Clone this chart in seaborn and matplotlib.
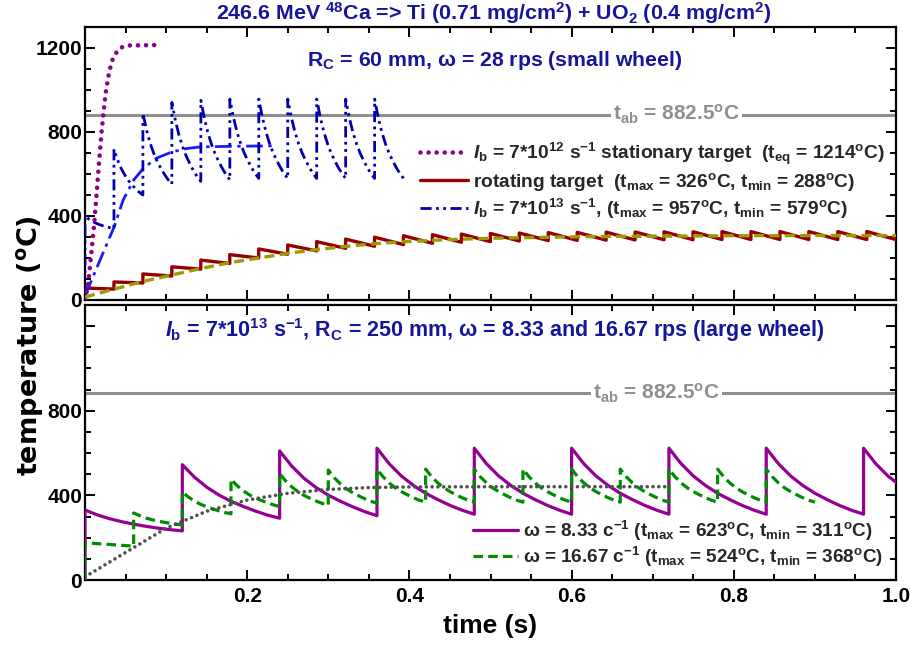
import matplotlib
matplotlib.use('Agg')
import matplotlib.pyplot as plt
import seaborn as sns
from matplotlib import font_manager as fm
from matplotlib.ticker import MultipleLocator, NullFormatter

# ---------------- data ----------------
# sample positions inside one revolution (fraction of the period)
tooth_frac = [0.0, 0.125, 0.25, 0.375, 0.5, 0.625, 0.75, 0.875, 1.0]

# top panel: small wheel, one revolution = 1/28 s
P_SMALL = 0.0357
stat_t = [0, 0.004, 0.008, 0.011, 0.014, 0.017, 0.020, 0.023, 0.026, 0.030, 0.034, 0.039, 0.045, 0.054, 0.088]
stat_T = [0, 81, 230, 347, 490, 640, 780, 900, 1000, 1090, 1145, 1180, 1203, 1212, 1214]

blue_start_T = 20
blue_tooth_t = [0.0, 0.0357, 0.0714, 0.1071, 0.1429, 0.1786, 0.2143, 0.25, 0.2857, 0.3214, 0.3571]
blue_steady = [957, 869, 799, 744, 699, 663, 630, 602, 579]
blue_teeth = [
    [400, 386, 375, 366, 359, 353, 348, 344, 340],
    [718, 667, 626, 595, 569, 548, 529, 513, 500],
    [889, 810, 747, 698, 658, 626, 597, 572, 552],
    [941, 853, 783, 729, 684, 648, 615, 587, 565],
    [951, 862, 792, 738, 693, 657, 624, 596, 572],
] + [blue_steady] * 6

bavg_t = [0, 0.012, 0.024, 0.036, 0.047, 0.060, 0.072, 0.088, 0.107, 0.125, 0.142, 0.183, 0.232]
bavg_T = [20, 130, 240, 349, 476, 571, 627, 675, 705, 721, 729, 732, 734]

brown_start_T = 15
brown_tooth_t = [i * 0.0357 for i in range(28)]
brown_peak = [57, 86, 124, 158, 190, 216, 243, 262, 278, 290, 299, 306, 311, 314, 317, 319, 321, 322,
              323, 324, 325, 325, 326, 326, 326, 326, 326, 326]
brown_min = [52, 81, 114, 147, 174, 200, 218, 234, 246, 256, 264, 270, 275, 278, 281, 283, 284, 285,
             286, 287, 287, 288, 288, 288, 288, 288, 288, 288]

olive_t = [0, 0.036, 0.071, 0.107, 0.143, 0.179, 0.214, 0.25, 0.286, 0.321, 0.357, 0.4, 0.45, 0.5, 0.6, 0.7, 0.8, 0.9, 1.0]
olive_T = [14, 52, 88, 119, 150, 178, 200, 222, 240, 255, 268, 279, 288, 294, 301, 304, 306, 307, 307]

# bottom panel: large wheel
P_833 = 0.12
purp_tooth_t = [0.0, 0.12, 0.24, 0.36, 0.48, 0.60, 0.72, 0.84, 0.96]
purp_steady = [623, 550, 492, 447, 410, 380, 353, 330, 311]
purp_teeth = [
    [331, 308, 290, 276, 264, 254, 245, 238, 232],
    [545, 486, 439, 402, 372, 348, 326, 307, 292],
    [610, 538, 481, 437, 401, 372, 346, 323, 304],
] + [purp_steady] * 6

P_1667 = 0.06
green_tooth_t = [0.0, 0.06, 0.12, 0.18, 0.24, 0.30, 0.36, 0.42, 0.48, 0.54, 0.60, 0.66, 0.72, 0.78, 0.84]
green_steady = [524, 488, 459, 436, 418, 403, 389, 377, 368]
green_teeth = [
    [176, 174, 172, 170, 168, 166, 164, 162, 160],
    [317, 304, 293, 285, 278, 273, 268, 264, 260],
    [416, 392, 373, 358, 346, 336, 327, 319, 313],
    [476, 446, 422, 403, 388, 376, 365, 355, 347],
    [503, 468, 440, 418, 400, 386, 373, 362, 353],
    [520, 483, 454, 431, 413, 398, 384, 372, 363],
] + [green_steady] * 9

avg_t = [0, 0.05, 0.10, 0.15, 0.20, 0.25, 0.30, 0.35, 0.40, 0.50, 0.72]
avg_T = [15, 130, 245, 325, 378, 410, 428, 437, 440, 441, 441]

T_AB = 882.5

# ---------------- helpers ----------------
def saw(starts, teeth, fracs, period, start_val):
    xs, ys = [starts[0]], [start_val]
    for s, vals in zip(starts, teeth):
        for f, v in zip(fracs, vals):
            xs.append(s + f * period)
            ys.append(v)
    return xs, ys

def draw(ax, x, y, **kw):
    sns.lineplot(x=x, y=y, ax=ax, sort=False, estimator=None, **kw)
    return ax.lines[-1]

# ---------------- style ----------------
sns.set_theme(style='ticks')
names = {f.name for f in fm.fontManager.ttflist}
NARROW = 'Liberation Sans Narrow' if 'Liberation Sans Narrow' in names else 'Liberation Sans'
plt.rcParams['font.family'] = [NARROW, 'DejaVu Sans']
plt.rcParams['font.weight'] = 'bold'
plt.rcParams['mathtext.fontset'] = 'custom'
plt.rcParams['mathtext.default'] = 'regular'
plt.rcParams['mathtext.it'] = 'Liberation Sans:italic:bold'
plt.rcParams['mathtext.rm'] = 'Liberation Sans:bold'
plt.rcParams['mathtext.bf'] = 'Liberation Sans:bold'

NAVY = '#16169a'
GRAY = '#8f8f8f'
LEGPROP_TOP = {'family': 'Liberation Sans', 'weight': 'bold', 'size': 13.8}
LEGPROP_BOT = {'family': 'Liberation Sans', 'weight': 'bold', 'size': 13.6}

fig = plt.figure(figsize=(9.14, 6.47), dpi=100)
W, H = 914, 647
L, R = 85, 896
ax1 = fig.add_axes([L / W, 1 - 300 / H, (R - L) / W, (300 - 27) / H])
ax2 = fig.add_axes([L / W, 1 - 580 / H, (R - L) / W, (580 - 305) / H])

for ax in (ax1, ax2):
    ax.set_xlim(0, 1.0)
    ax.set_ylim(0, 1300)
    for s in ax.spines.values():
        s.set_linewidth(1.6)
        s.set_color('black')
    ax.xaxis.set_major_locator(MultipleLocator(0.2))
    ax.xaxis.set_minor_locator(MultipleLocator(0.05))
    ax.yaxis.set_major_locator(MultipleLocator(400))
    ax.yaxis.set_minor_locator(MultipleLocator(100))
    ax.tick_params(which='both', direction='in', top=True, right=True, width=1.4, colors='black')
    ax.tick_params(which='major', length=7)
    ax.tick_params(which='minor', length=4)
    ax.tick_params(axis='y', labelsize=15, pad=2)
    ax.tick_params(axis='x', labelsize=15, pad=5)
    ax.axhline(T_AB, color=GRAY, lw=2.2, zorder=1)
    ax.set_xlabel('')
    ax.set_ylabel('')

ax1.xaxis.set_major_formatter(NullFormatter())
ax1.set_yticks([0, 400, 800, 1200])
ax1.set_yticklabels(['0', '400', '800', '1200'])
ax2.set_yticks([0, 400, 800, 1200])
ax2.set_yticklabels(['0', '400', '800', ''])
ax2.set_xticks([0.0, 0.2, 0.4, 0.6, 0.8, 1.0])
ax2.set_xticklabels(['', '0.2', '0.4', '0.6', '0.8', '1.0'])
for lab in ax1.get_yticklabels() + ax2.get_yticklabels() + ax2.get_xticklabels():
    lab.set_fontweight('bold')

# ---------------- top panel ----------------
bx, by = saw(blue_tooth_t, blue_teeth, tooth_frac, P_SMALL, blue_start_T)
rx, ry = saw(brown_tooth_t, [[p, m] for p, m in zip(brown_peak, brown_min)], [0.0, 1.0], P_SMALL, brown_start_T)

draw(ax1, olive_t, olive_T, color='#9c9c00', lw=2.4, linestyle=(0, (3.0, 1.6)), zorder=4)
l_brown = draw(ax1, rx, ry, color='#960000', lw=2.4, zorder=3)
draw(ax1, bavg_t, bavg_T, color='#1a1aff', lw=2.0, linestyle=(0, (6, 2, 1.2, 2)), zorder=3)
l_blue = draw(ax1, bx, by, color='#0000b0', lw=2.0, linestyle=(0, (4, 1.6, 1, 1.6, 1, 1.6)), zorder=3)
l_stat = draw(ax1, stat_t, stat_T, color='#8b008b', lw=3.3, linestyle=(0, (0.01, 1.75)),
              dash_capstyle='round', zorder=5)

ax1.legend([l_stat, l_brown, l_blue],
           [r'$\mathit{I}_{b}$ = 7*10$^{12}$ s$^{-1}$ stationary target  (t$_{eq}$ = 1214$^{o}$C)',
            r'rotating target  (t$_{max}$ = 326$^{o}$C, t$_{min}$ = 288$^{o}$C)',
            r'$\mathit{I}_{b}$ = 7*10$^{13}$ s$^{-1}$, (t$_{max}$ = 957$^{o}$C, t$_{min}$ = 579$^{o}$C)'],
           loc='upper left', bbox_to_anchor=(0.413, 0.585), frameon=False,
           borderpad=0, borderaxespad=0, handlelength=2.5, handletextpad=0.26,
           labelspacing=0.22, prop=LEGPROP_TOP)

ax1.text(0.505, 0.879, r'R$_{C}$ = 60 mm, ω = 28 rps (small wheel)', transform=ax1.transAxes,
         ha='center', va='center', color=NAVY, fontsize=15.3, fontweight='bold')
ax1.text(0.729, T_AB, r't$_{ab}$ = 882.5$^{o}$C', transform=ax1.get_yaxis_transform(),
         ha='center', va='center', color=GRAY, fontsize=15, fontweight='bold',
         family='Liberation Sans',
         bbox=dict(facecolor='white', edgecolor='none', pad=1.5), zorder=2)

# ---------------- bottom panel ----------------
px, py = saw(purp_tooth_t, purp_teeth, tooth_frac, P_833, 0)
gx, gy = saw(green_tooth_t, green_teeth, tooth_frac, P_1667, 0)

l_purp = draw(ax2, px, py, color='#930093', lw=2.3, zorder=3)
l_green = draw(ax2, gx, gy, color='#008c00', lw=2.3, linestyle=(0, (3.0, 1.6)), zorder=4)
draw(ax2, avg_t, avg_T, color='#505050', lw=2.6, linestyle=(0, (0.01, 1.6)),
     dash_capstyle='round', zorder=5)

ax2.legend([l_purp, l_green],
           [r'ω = 8.33 c$^{-1}$ (t$_{max}$ = 623$^{o}$C, t$_{min}$ = 311$^{o}$C)',
            r'ω = 16.67 c$^{-1}$ (t$_{max}$ = 524$^{o}$C, t$_{min}$ = 368$^{o}$C)'],
           loc='upper left', bbox_to_anchor=(0.478, 0.222), frameon=False,
           borderpad=0, borderaxespad=0, handlelength=2.4, handletextpad=0.25,
           labelspacing=0.08, prop=LEGPROP_BOT)

ax2.text(0.505, 0.909, r'$\mathit{I}_{b}$ = 7*10$^{13}$ s$^{-1}$, R$_{C}$ = 250 mm, ω = 8.33 and 16.67 rps (large wheel)',
         transform=ax2.transAxes, ha='center', va='center', color=NAVY, fontsize=15.5, fontweight='bold')
ax2.text(0.705, T_AB, r't$_{ab}$ = 882.5$^{o}$C', transform=ax2.get_yaxis_transform(),
         ha='center', va='center', color=GRAY, fontsize=15, fontweight='bold',
         family='Liberation Sans',
         bbox=dict(facecolor='white', edgecolor='none', pad=1.5), zorder=2)

# ---------------- figure texts ----------------
fig.text(494 / W, 1 - 13 / H, r'246.6 MeV $^{48}$Ca => Ti (0.71 mg/cm$^{2}$) + UO$_{2}$ (0.4 mg/cm$^{2}$)',
         ha='center', va='center', color=NAVY, fontsize=15.4, fontweight='bold')
fig.text(30 / W, 1 - 346 / H, r'temperature ($^{o}$C)', rotation=90, ha='center', va='center',
         fontsize=19.5, fontweight='bold', family='DejaVu Sans', color='black')
fig.text(490 / W, 1 - 626 / H, 'time (s)', ha='center', va='center', fontsize=19,
         fontweight='bold', color='black')

fig.savefig('out.png', dpi=100)
